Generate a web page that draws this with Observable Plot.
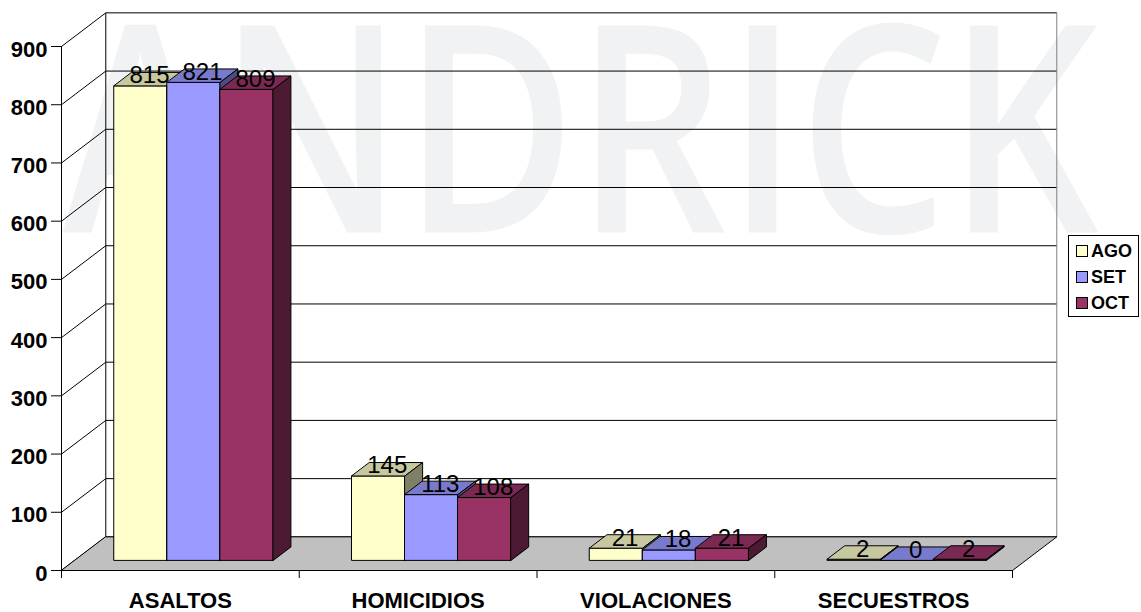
<!DOCTYPE html>
<html>
<head>
<meta charset="utf-8">
<script src="https://cdn.jsdelivr.net/npm/d3@7"></script>
<script src="https://cdn.jsdelivr.net/npm/@observablehq/plot@0.6"></script>
<style>
  html, body { margin: 0; padding: 0; background: #fff; }
  #wrap { position: relative; width: 1141px; height: 612px; overflow: hidden; }
  #wrap svg { position: absolute; left: 0; top: 0; }
  #legend { position: absolute; left: 1068px; top: 235px; width: 71px; height: 82px; box-sizing: border-box;
            border: 1px solid #000; background: #fff; font: bold 18px "Liberation Sans", Arial, sans-serif; }
  #legend .item { position: absolute; left: 7px; height: 20px; line-height: 20px; display: flex; align-items: center; }
  #legend .sw { width: 10px; height: 10px; border: 1px solid #000; margin-right: 3px; }
</style>
</head>
<body>
<div id="wrap"></div>
<script>
// ---- data ----
const categories = ["ASALTOS", "HOMICIDIOS", "VIOLACIONES", "SECUESTROS"];
const series = ["AGO", "SET", "OCT"];
const ago = [815, 145, 21, 2];
const set = [821, 113, 18, 0];
const oct = [809, 108, 21, 2];
const yTicks = [0, 100, 200, 300, 400, 500, 600, 700, 800, 900];
const watermark = ["ANDRICK"];

// ---- styles ----
const fronts = ["#ffffcc", "#9999ff", "#993366"];
const tops = ["#c8c8a0", "#7a7acc", "#7a2952"];
const sides = ["#808066", "#4d4d80", "#4d1a33"];

// depth of the 3D floor expressed in data units (x: category units, y: value units)
const DX = 0.1863, DY = 57.8;
const F0 = 0.3, F1 = 0.7;        // bar front/back depth fractions
const BW = 0.223;                // bar width in category units
const GAP = (1 - 3 * BW) / 2;
const values = [ago, set, oct];

const face = (pts, fill) => Plot.line(pts, {curve: "linear-closed", fill, stroke: "#000", strokeWidth: 1});

const marks = [];
// watermark
marks.push(Plot.text(watermark, {text: d => d, frameAnchor: "top-left", dx: 1, dy: 186, lineAnchor: "bottom",
  textAnchor: "start", fontSize: 290, fontFamily: "Open Sans", fontWeight: 600, fill: "#f1f2f3"}));
// back wall gridlines
marks.push(Plot.link(yTicks, {x1: DX, x2: 4 + DX, y1: d => d + DY, y2: d => d + DY, stroke: "#000", strokeWidth: 1}));
// left wall diagonals
marks.push(Plot.link(yTicks, {x1: 0, x2: DX, y1: d => d, y2: d => d + DY, stroke: "#000", strokeWidth: 1}));
// back wall left edge
marks.push(Plot.link([0], {x1: DX, x2: DX, y1: DY, y2: 900 + DY, stroke: "#000", strokeWidth: 1}));
// right edge
marks.push(Plot.link([0], {x1: 4 + DX, x2: 4 + DX, y1: DY, y2: 900 + DY, stroke: "#808080", strokeWidth: 1}));
// floor
marks.push(face([[0, 0], [4, 0], [4 + DX, DY], [DX, DY]], "#c0c0c0"));
// front y axis line
marks.push(Plot.ruleX([0], {y1: 0, y2: 900, stroke: "#000"}));

// bars
const labelData = [];
categories.forEach((c, i) => {
  series.forEach((s, j) => {
    const v = values[j][i];
    const x0 = i + GAP + j * BW, x1 = x0 + BW;
    const a = F0 * DX, b = F0 * DY, a2 = F1 * DX, b2 = F1 * DY;
    marks.push(face([[x0 + a, b], [x1 + a, b], [x1 + a, v + b], [x0 + a, v + b]], fronts[j]));
    marks.push(face([[x0 + a, v + b], [x1 + a, v + b], [x1 + a2, v + b2], [x0 + a2, v + b2]], tops[j]));
    marks.push(face([[x1 + a, b], [x1 + a2, b2], [x1 + a2, v + b2], [x1 + a, v + b]], sides[j]));
    labelData.push({x: (x0 + x1) / 2 + 0.5 * DX, y: v + 0.5 * DY, t: String(v)});
  });
});
marks.push(Plot.text(labelData, {x: "x", y: "y", text: "t", fontSize: 24, dy: -3.5,
  fontFamily: "'Liberation Sans', Arial, sans-serif", fill: "#000"}));

// axes
marks.push(Plot.axisY(yTicks, {tickSize: 10, tickFormat: () => "", label: null}));
marks.push(Plot.text(yTicks, {x: 0, y: d => d, text: d => String(d), textAnchor: "end", dx: -14, dy: 3,
  fontSize: 22, fontWeight: "bold", fill: "#000"}));
marks.push(Plot.axisX([0, 1, 2, 3, 4], {tickSize: 8, tickFormat: () => "", label: null}));
marks.push(Plot.text(categories, {x: (d, i) => i + 0.5, y: 0, text: d => d, lineAnchor: "top", dy: 21.5,
  fontSize: 22, fontWeight: "bold", fill: "#000"}));

const chart = Plot.plot({
  width: 1141, height: 612,
  marginLeft: 61, marginRight: 129, marginTop: 46, marginBottom: 42,
  x: {type: "linear", domain: [0, 4], label: null},
  y: {type: "linear", domain: [0, 900], label: null},
  style: {fontFamily: "'Liberation Sans', Arial, sans-serif", background: "transparent", overflow: "visible", color: "#000"},
  marks
});
document.getElementById("wrap").appendChild(chart);
d3.select(chart).selectAll("text")
  .filter(function() { return this.textContent === watermark[0]; })
  .attr("textLength", 1036).attr("lengthAdjust", "spacingAndGlyphs");

// legend
const legend = document.createElement("div");
legend.id = "legend";
series.forEach((s, j) => {
  const item = document.createElement("div");
  item.className = "item";
  item.style.top = (5 + j * 26) + "px";
  const sw = document.createElement("div");
  sw.className = "sw";
  sw.style.background = fronts[j];
  const t = document.createElement("span");
  t.textContent = s;
  item.appendChild(sw); item.appendChild(t);
  legend.appendChild(item);
});
document.getElementById("wrap").appendChild(legend);
</script>
</body>
</html>
